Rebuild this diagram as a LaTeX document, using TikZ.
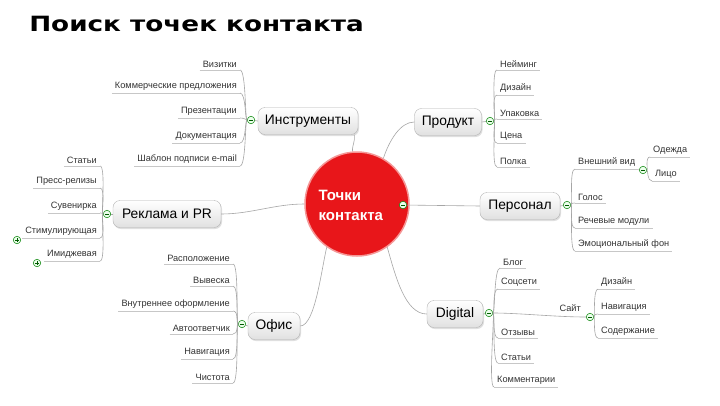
\documentclass[tikz,border=0pt]{standalone}
\usepackage{fontspec}
\setmainfont{Liberation Sans}
\newfontfamily\titlefont{DejaVu Sans}
\usetikzlibrary{shadows}
\begin{document}
\begin{tikzpicture}[x=1pt,y=-1pt,
  conn/.style={draw=black!35, line width=0.6pt},
  uline/.style={draw=black!22, line width=0.6pt},
  mainbox/.style={draw=black!30, rounded corners=7pt, top color=white, bottom color=black!12,
    font=\fontsize{13.8}{16}\selectfont, minimum height=27pt, inner xsep=6pt,
    drop shadow={shadow xshift=1pt, shadow yshift=-1.5pt, opacity=0.25}},
  leaffont/.style={font=\fontsize{9.2}{11}\selectfont, text=black!80, inner xsep=3pt, inner ysep=2pt},
  leafL/.style={leaffont, anchor=south east,
    append after command={(\tikzlastnode.south west) edge[uline] (\tikzlastnode.south east)}},
  leafR/.style={leaffont, anchor=south west,
    append after command={(\tikzlastnode.south west) edge[uline] (\tikzlastnode.south east)}},
  leafplain/.style={leaffont, anchor=south east},
  minusbtn/.style={circle, draw=green!50!black, fill=green!8, line width=0.5pt, minimum size=7.5pt, inner sep=0pt,
    path picture={\draw[green!35!black, line width=0.7pt] ([xshift=-2pt]path picture bounding box.center) -- ([xshift=2pt]path picture bounding box.center);}},
  plusbtn/.style={circle, draw=green!50!black, fill=green!8, line width=0.5pt, minimum size=7.5pt, inner sep=0pt,
    path picture={\draw[green!35!black, line width=0.7pt] ([xshift=-2pt]path picture bounding box.center) -- ([xshift=2pt]path picture bounding box.center)
      ([yshift=-2pt]path picture bounding box.center) -- ([yshift=2pt]path picture bounding box.center);}}
]
\useasboundingbox[fill=white] (0,0) rectangle (720,405);

% title
\node[anchor=west, inner sep=0pt, xscale=1.25, transform shape, font=\titlefont\bfseries\fontsize{21}{24}\selectfont] (title) at (29,24) {Поиск точек контакта};

% center
\node[circle, fill={rgb,255:red,232;green,22;blue,26}, draw={rgb,255:red,245;green,150;blue,150}, line width=1.5pt,
  minimum size=104pt, inner sep=0pt] (c) at (357,204) {};
\node[anchor=west, align=left, text=white, font=\bfseries\fontsize{15}{20}\selectfont] (ctext) at (315,205) {Точки\\контакта};
\node[minusbtn] (cb) at (403,205) {};

% main nodes
\node[mainbox, minimum width=100pt] (ins) at (308,121) {Инструменты};
\node[mainbox, minimum width=108pt] (rek) at (167,214) {Реклама и PR};
\node[mainbox, minimum width=52pt] (ofis) at (274,326) {Офис};
\node[mainbox, minimum width=67pt] (prod) at (448,122) {Продукт};
\node[mainbox, minimum width=80pt] (pers) at (520,206) {Персонал};
\node[mainbox, minimum width=56pt] (dig) at (455,314) {Digital};

% center connectors
\draw[conn] (c.95) .. controls +(0,-8) and +(1,8) .. ([xshift=-4pt]ins.south east);
\draw[conn] (c.west) .. controls +(-30,0) and +(30,0) .. (rek.east);
\draw[conn] (c.235) .. controls +(-5,20) and +(15,0) .. (ofis.east);
\draw[conn] (c.60) .. controls +(6,-18) and +(-14,0) .. (prod.west);
\draw[conn] (cb) -- (pers.west);
\draw[conn] (c.-55) .. controls +(8,28) and +(-22,0) .. (dig.west);

% buttons
\node[minusbtn] (bi) at (251,120) {};
\node[minusbtn] (br) at (107,214) {};
\node[minusbtn] (bo) at (242,324) {};
\node[minusbtn] (bp) at (490,121) {};
\node[minusbtn] (bpe) at (567,205) {};
\node[minusbtn] (bd) at (489,313) {};
\node[minusbtn] (bvv) at (643,170) {};
\node[minusbtn] (bs) at (590,317) {};
\draw[conn] (ins.west) -- (bi);
\draw[conn] (rek.west) -- (br);
\draw[conn] (ofis.west) -- (bo);
\draw[conn] (prod.east) -- (bp);
\draw[conn] (pers.east) -- (bpe);
\draw[conn] (dig.east) -- (bd);

% Instruments leaves
\node[leafL] (i1) at (240,70) {Визитки};
\node[leafL] (i2) at (240,93) {Коммерческие предложения};
\node[leafL] (i3) at (240,118) {Презентации};
\node[leafL] (i4) at (240,143) {Документация};
\node[leafL] (i5) at (240,166) {Шаблон подписи e-mail};
\foreach \n in {i1,i2,i3,i4,i5}{\draw[conn] (bi) .. controls +(-6,0) and +(6,0) .. (\n.south east);}

% Reklama leaves
\node[leafL] (r1) at (100,166) {Статьи};
\node[leafL] (r2) at (100,188) {Пресс-релизы};
\node[leafL] (r3) at (100,213) {Сувенирка};
\node[leafL] (r4) at (100,238) {Стимулирующая};
\node[leafL] (r5) at (100,261) {Имиджевая};
\foreach \n in {r1,r2,r3,r4,r5}{\draw[conn] (br) .. controls +(-6,0) and +(6,0) .. (\n.south east);}
\node[plusbtn] (pr4) at (17,240) {};
\node[plusbtn] (pr5) at (37,263) {};

% Ofis leaves
\node[leafL] (o1) at (233,264) {Расположение};
\node[leafL] (o2) at (233,286) {Вывеска};
\node[leafL] (o3) at (233,311) {Внутреннее оформление};
\node[leafL] (o4) at (233,334) {Автоответчик};
\node[leafL] (o5) at (233,359) {Навигация};
\node[leafL] (o6) at (233,383) {Чистота};
\foreach \n in {o1,o2,o3,o4,o5,o6}{\draw[conn] (bo) .. controls +(-6,0) and +(6,0) .. (\n.south east);}

% Produkt leaves
\node[leafR] (p1) at (497,70) {Нейминг};
\node[leafR] (p2) at (497,95) {Дизайн};
\node[leafR] (p3) at (497,119) {Упаковка};
\node[leafR] (p4) at (497,143) {Цена};
\node[leafR] (p5) at (497,167) {Полка};
\foreach \n in {p1,p2,p3,p4,p5}{\draw[conn] (bp) .. controls +(6,0) and +(-6,0) .. (\n.south west);}

% Personal leaves
\node[leafR] (e1) at (575,169) {Внешний вид};
\node[leafR] (e2) at (575,203) {Голос};
\node[leafR] (e3) at (575,228) {Речевые модули};
\node[leafR] (e4) at (575,251) {Эмоциональный фон};
\foreach \n in {e1,e2,e3,e4}{\draw[conn] (bpe) .. controls +(6,0) and +(-6,0) .. (\n.south west);}
\draw[uline] (e1.south east) -- (bvv.west);
\node[leafR] (e11) at (650,157) {Одежда};
\node[leafR] (e12) at (652,181) {Лицо};
\foreach \n in {e11,e12}{\draw[conn] (bvv) .. controls +(5,0) and +(-5,0) .. (\n.south west);}

% Digital leaves
\node[leafR] (d1) at (500,268) {Блог};
\node[leafR] (d2) at (498,289) {Соцсети};
\node[leafplain] (d3) at (584,314) {Сайт};
\node[leafR] (d4) at (498,338) {Отзывы};
\node[leafR] (d5) at (498,363) {Статьи};
\node[leafR] (d6) at (494,387) {Комментарии};
\foreach \n in {d1,d2,d4,d5,d6}{\draw[conn] (bd) .. controls +(6,0) and +(-6,0) .. (\n.south west);}
\draw[conn] (bd) .. controls +(30,0) and +(-30,0) .. (bs.west);
\node[leafR] (s1) at (598,289) {Дизайн};
\node[leafR] (s2) at (598,314) {Навигация};
\node[leafR] (s3) at (598,338) {Содержание};
\foreach \n in {s1,s2,s3}{\draw[conn] (bs) .. controls +(5,0) and +(-5,0) .. (\n.south west);}
\end{tikzpicture}
\end{document}
